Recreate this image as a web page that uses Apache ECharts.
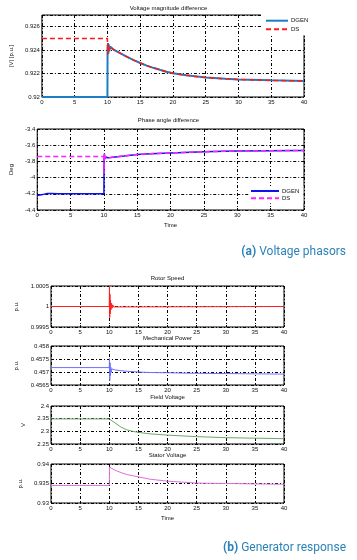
<!DOCTYPE html>
<html><head><meta charset="utf-8">
<script src="https://cdn.jsdelivr.net/npm/echarts@6/dist/echarts.min.js"></script>
<style>html,body{margin:0;padding:0;background:#fff}#c{width:357px;height:560px}</style>
</head><body><div id="c"></div>
<script>
// ---- Data ----
const xTicks = {min: 0, max: 40, interval: 5};

// (a) Voltage magnitude difference
const vmDgenT = [0, 10, 10.02, 10.08, 10.14, 10.2, 10.28, 10.4, 10.6, 11, 12, 13, 14, 15, 16, 17, 18, 19, 20, 22, 25, 28, 30, 35, 40];
const vmDgenV = [0.92, 0.92, 0.9240, 0.9246, 0.9237, 0.9245, 0.9239, 0.9243, 0.9242, 0.92402, 0.92372, 0.92342, 0.92315, 0.9229, 0.92268, 0.92249, 0.92232, 0.92216, 0.92203, 0.92185, 0.92166, 0.92155, 0.9215, 0.92142, 0.92136];
const vmDsT = [0, 10, 10.03, 10.07, 10.12, 10.18, 10.25, 10.35, 10.6, 11, 12, 13, 14, 15, 16, 17, 18, 19, 20, 22, 25, 28, 30, 35, 40];
const vmDsV = [0.925, 0.925, 0.9236, 0.9246, 0.9238, 0.9244, 0.924, 0.9243, 0.9242, 0.92402, 0.92372, 0.92342, 0.92315, 0.9229, 0.92268, 0.92249, 0.92232, 0.92216, 0.92203, 0.92185, 0.92166, 0.92155, 0.9215, 0.92142, 0.92136];

// (a) Phase angle difference
const paDgenT = [0, 0.8, 1.5, 2.2, 3, 10, 10.02, 10.08, 10.15, 10.25, 10.4, 10.6, 11, 12, 13, 15, 17, 20, 22, 25, 28, 30, 35, 40];
const paDgenV = [-4.22, -4.21, -4.195, -4.195, -4.2, -4.2, -3.76, -3.71, -3.77, -3.745, -3.765, -3.755, -3.752, -3.742, -3.733, -3.714, -3.705, -3.695, -3.689, -3.681, -3.675, -3.672, -3.668, -3.664];
const paDsT = [0, 10, 10.02, 10.05, 10.1, 10.18, 10.3, 10.5, 11, 12, 13, 15, 17, 20, 22, 25, 28, 30, 35, 40];
const paDsV = [-3.74, -3.74, -3.95, -3.70, -3.78, -3.735, -3.765, -3.755, -3.752, -3.742, -3.733, -3.714, -3.705, -3.695, -3.689, -3.681, -3.675, -3.672, -3.668, -3.664];

// (b) Rotor speed
const rsT = [0, 10, 10.04, 10.08, 10.12, 10.17, 10.22, 10.3, 10.4, 10.5, 10.6, 10.75, 10.9, 40];
const rsV = [1, 1, 1.0005, 0.99973, 1.0003, 0.99982, 1.00015, 0.99992, 1.00008, 0.99996, 1.00004, 0.99999, 1, 1];

// (b) Mechanical power
const mpT = [0, 10, 10.04, 10.09, 10.14, 10.2, 10.27, 10.35, 10.45, 10.6, 11, 12, 13, 15, 17, 20, 25, 30, 35, 40];
const mpV = [0.45717, 0.45717, 0.45752, 0.45667, 0.45735, 0.45686, 0.45718, 0.45698, 0.45712, 0.45705, 0.45708, 0.45705, 0.45703, 0.457, 0.45698, 0.45697, 0.45695, 0.45694, 0.45693, 0.45692];

// (b) Field voltage
const fvT = [0, 10, 10.3, 11, 12, 13, 14, 15, 17, 20, 25, 30, 35, 40];
const fvV = [2.349, 2.349, 2.344, 2.333, 2.317, 2.306, 2.3, 2.296, 2.29, 2.285, 2.279, 2.275, 2.273, 2.271];

// (b) Stator voltage
const svT = [0, 10, 10.05, 10.25, 11, 12, 13, 14, 15, 17, 20, 25, 30, 35, 40];
const svV = [0.9345, 0.9345, 0.9392, 0.9388, 0.9384, 0.9378, 0.9373, 0.937, 0.9367, 0.9361, 0.9356, 0.9351, 0.935, 0.9349, 0.9348];

// Y axis ranges
const yRanges = [
  {min: 0.92, max: 0.927, interval: 0.002, name: '|V| [p.u.]'},
  {min: -4.4, max: -3.4, interval: 0.2, name: 'Deg'},
  {min: 0.9995, max: 1.0005, interval: 0.0005, name: 'p.u.'},
  {min: 0.4565, max: 0.458, interval: 0.0005, name: 'p.u.'},
  {min: 2.25, max: 2.4, interval: 0.05, name: 'V'},
  {min: 0.93, max: 0.94, interval: 0.005, name: 'p.u.'}
];
const titles = ['Voltage magnitude difference', 'Phase angle difference', 'Rotor Speed', 'Mechanical Power', 'Field Voltage', 'Stator Voltage'];

// ---- Layout ----
const grids = [
  {left: 33, top: 15, width: 271, height: 82},
  {left: 33, top: 129, width: 271, height: 81},
  {left: 51, top: 286, width: 233, height: 41},
  {left: 51, top: 346, width: 233, height: 39},
  {left: 51, top: 406, width: 233, height: 38},
  {left: 51, top: 464, width: 233, height: 39}
];
const titleY = [9, 121.5, 279.5, 339, 398, 456.5];
const nameGaps = [20, 19, 24, 24, 18, 24];
const FS = 6;
const FONT = '"Liberation Sans", Arial, sans-serif';
const gridLine = {color: '#000', width: 1, type: [3, 2, 1, 2]};
const pairs = (t, v) => t.map((x, i) => [x, v[i]]);
const legendBase = {
  orient: 'vertical', backgroundColor: '#fff', itemHeight: 6, selectedMode: false,
  itemStyle: {opacity: 0, borderWidth: 0},
  lineStyle: {inactiveWidth: 0},
  textStyle: {fontSize: FS, color: '#111', fontFamily: FONT, padding: [0, 0, 0, -2]}
};

const option = {
  animation: false,
  backgroundColor: '#fff',
  textStyle: {fontFamily: FONT},
  title: titles.map((t, i) => ({
    text: t,
    left: grids[i].left + grids[i].width / 2,
    top: titleY[i] - 4,
    textAlign: 'center',
    padding: 0,
    textStyle: {fontSize: FS, fontWeight: 'normal', color: '#111', fontFamily: FONT}
  })).concat([
    {text: '{b|(a)} Voltage phasors', right: 11, top: 246, padding: 0,
     textStyle: {rich: {b: {fontWeight: 'bold', fontSize: 12, color: '#2a82b8', fontFamily: 'Roboto'}}, fontSize: 12, fontWeight: 'normal', color: '#2a82b8', fontFamily: 'Roboto'}},
    {text: '{b|(b)} Generator response', right: 11, top: 542, padding: 0,
     textStyle: {rich: {b: {fontWeight: 'bold', fontSize: 12, color: '#2a82b8', fontFamily: 'Roboto'}}, fontSize: 12, fontWeight: 'normal', color: '#2a82b8', fontFamily: 'Roboto'}}
  ]),
  legend: [
    Object.assign({}, legendBase, {data: ['DGEN', 'DS'], left: 261, top: 14, padding: [3.7, 5, 3, 4],
      itemWidth: 22, itemGap: 2.6}),
    Object.assign({}, legendBase, {data: ['DGEN ', 'DS '], left: 249, top: 186, padding: [2, 4, 2, 1],
      itemWidth: 28, itemGap: 1.3, formatter: n => n.trim()})
  ],
  grid: grids.map(g => Object.assign({show: true, borderColor: '#000', borderWidth: 1, backgroundColor: '#fff'}, g)),
  xAxis: grids.map((g, i) => ({
    type: 'value', gridIndex: i, min: xTicks.min, max: xTicks.max, interval: xTicks.interval,
    name: (i === 1 || i === 5) ? 'Time' : '', nameLocation: 'middle', nameGap: 12,
    nameTextStyle: {fontSize: FS, color: '#111'},
    axisLine: {show: false},
    axisTick: {show: true, inside: true, length: 2, lineStyle: {color: '#000'}},
    axisLabel: {fontSize: FS, color: '#111', margin: 2},
    splitLine: {show: true, lineStyle: gridLine}
  })),
  yAxis: yRanges.map((r, i) => ({
    type: 'value', gridIndex: i, min: r.min, max: r.max, interval: r.interval,
    name: r.name, nameLocation: 'middle', nameGap: nameGaps[i],
    nameTextStyle: {fontSize: FS, color: '#111'},
    axisLine: {show: false},
    axisTick: {show: true, inside: true, length: 2, lineStyle: {color: '#000'}},
    axisLabel: {fontSize: FS, color: '#111', margin: 2, showMaxLabel: i !== 0},
    splitLine: {show: true, lineStyle: gridLine}
  })),
  series: [
    {name: 'DGEN', type: 'line', xAxisIndex: 0, yAxisIndex: 0, data: pairs(vmDgenT, vmDgenV), showSymbol: false, symbol: 'none', clip: false,
     lineStyle: {color: '#1a7fc4', width: 2}, itemStyle: {color: '#1a7fc4'}},
    {name: 'DS', type: 'line', xAxisIndex: 0, yAxisIndex: 0, data: pairs(vmDsT, vmDsV), showSymbol: false, symbol: 'none',
     lineStyle: {color: '#ff1a1a', width: 1.5, type: [5, 3]}, itemStyle: {color: '#ff1a1a'}},
    {name: 'DGEN ', type: 'line', xAxisIndex: 1, yAxisIndex: 1, data: pairs(paDgenT, paDgenV), showSymbol: false, symbol: 'none',
     lineStyle: {color: '#1010f0', width: 1.5}, itemStyle: {color: '#1010f0'}},
    {name: 'DS ', type: 'line', xAxisIndex: 1, yAxisIndex: 1, data: pairs(paDsT, paDsV), showSymbol: false, symbol: 'none',
     lineStyle: {color: '#ff22ff', width: 1.5, type: [5, 3]}, itemStyle: {color: '#ff22ff'}},
    {name: 'Rotor Speed', type: 'line', xAxisIndex: 2, yAxisIndex: 2, data: pairs(rsT, rsV), showSymbol: false, symbol: 'none',
     lineStyle: {color: '#ff2020', width: 1}},
    {name: 'Mechanical Power', type: 'line', xAxisIndex: 3, yAxisIndex: 3, data: pairs(mpT, mpV), showSymbol: false, symbol: 'none',
     lineStyle: {color: '#6f6fff', width: 1}},
    {name: 'Field Voltage', type: 'line', xAxisIndex: 4, yAxisIndex: 4, data: pairs(fvT, fvV), showSymbol: false, symbol: 'none',
     lineStyle: {color: '#6aa86a', width: 1}},
    {name: 'Stator Voltage', type: 'line', xAxisIndex: 5, yAxisIndex: 5, data: pairs(svT, svV), showSymbol: false, symbol: 'none',
     lineStyle: {color: '#dd6fdd', width: 1}}
  ]
};
const chart = echarts.init(document.getElementById('c'), null, {renderer: 'canvas'});
chart.setOption(option);
</script></body></html>
